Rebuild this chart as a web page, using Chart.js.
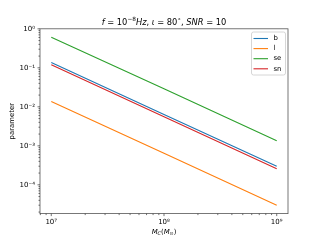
<!DOCTYPE html>
<html>
<head>
<meta charset="utf-8">
<script src="https://cdn.jsdelivr.net/npm/chart.js@4.4.0/dist/chart.umd.min.js"></script>
<style>
    html, body { margin: 0; padding: 0; background: #ffffff; }
</style>
</head>
<body>
<canvas id="paramChart" width="320" height="240"></canvas>
<script>
// chirp mass (solar masses)
var massChirp = [1e7, 1e8, 1e9];
// parameter values
var paramB = [0.137, 0.0064, 3.0e-4];
var paramL = [0.0137, 6.4e-4, 3.0e-5];
var paramSE = [0.61, 0.029, 1.35e-3];
var paramSN = [0.12, 0.0056, 2.6e-4];
var seriesNames = ['b', 'l', 'se', 'sn'];
var seriesColors = ['#1f77b4', '#ff7f0e', '#2ca02c', '#d62728'];

var allSeries = [paramB, paramL, paramSE, paramSN];
var font = 'DejaVu Sans';

function toPoints(ys) {
    return massChirp.map(function (m, i) { return { x: m, y: ys[i] }; });
}

// matplotlib style 5% margin in log space
function logLimits(vals) {
    var lo = Math.log10(Math.min.apply(null, vals));
    var hi = Math.log10(Math.max.apply(null, vals));
    var pad = (hi - lo) * 0.05;
    return [Math.pow(10, lo - pad), Math.pow(10, hi + pad)];
}
var xLim = logLimits(massChirp);
var yLim = logLimits([].concat.apply([], allSeries));

var supMap = { '0': '⁰', '1': '¹', '2': '²', '3': '³', '4': '⁴', '5': '⁵', '6': '⁶', '7': '⁷', '8': '⁸', '9': '⁹', '-': '⁻' };
function powLabel(value) {
    var e = Math.log10(value);
    var r = Math.round(e);
    if (Math.abs(e - r) > 1e-6) return '';
    return '10' + String(r).split('').map(function (ch) { return supMap[ch]; }).join('');
}

function logTicks(scale) {
    var ticks = [];
    var lo = Math.floor(Math.log10(scale.min)), hi = Math.ceil(Math.log10(scale.max));
    for (var e = lo; e <= hi; e++) {
        for (var m = 1; m <= 9; m++) {
            var v = m * Math.pow(10, e);
            if (v >= scale.min * 0.9999 && v <= scale.max * 1.0001) ticks.push({ value: v, major: m === 1 });
        }
    }
    scale.ticks = ticks;
}

// draw pieces of text with mixed styles
function drawRich(ctx, parts, cx, y, size) {
    var total = 0;
    parts.forEach(function (p) {
        var s = p.sub || p.sup ? size * 0.7 : size;
        ctx.font = (p.it ? 'italic ' : '') + s + 'px "' + font + '"';
        p.w = ctx.measureText(p.t).width;
        p.s = s;
        total += p.w;
    });
    var x = cx - total / 2;
    ctx.textAlign = 'left';
    ctx.textBaseline = 'alphabetic';
    parts.forEach(function (p) {
        ctx.font = (p.it ? 'italic ' : '') + p.s + 'px "' + font + '"';
        var dy = p.sup ? -size * 0.4 : (p.sub ? size * 0.2 : 0);
        ctx.fillText(p.t, x, y + dy);
        x += p.w;
    });
}

var decorPlugin = {
    id: 'decor',
    afterDraw: function (chart) {
        var ctx = chart.ctx, a = chart.chartArea;
        ctx.save();
        // spines
        ctx.strokeStyle = '#555555';
        ctx.lineWidth = 0.8;
        ctx.strokeRect(a.left, a.top, a.right - a.left, a.bottom - a.top);

        // tick marks
        ctx.strokeStyle = '#333333';
        ctx.lineWidth = 0.7;
        var xs = chart.scales.x, ys = chart.scales.y;
        xs.ticks.forEach(function (t) {
            var px = xs.getPixelForValue(t.value);
            var len = t.major ? 2.5 : 1.5;
            ctx.beginPath(); ctx.moveTo(px, a.bottom); ctx.lineTo(px, a.bottom + len); ctx.stroke();
        });
        ys.ticks.forEach(function (t) {
            var py = ys.getPixelForValue(t.value);
            var len = t.major ? 2.5 : 1.5;
            ctx.beginPath(); ctx.moveTo(a.left, py); ctx.lineTo(a.left - len, py); ctx.stroke();
        });

        // title
        ctx.fillStyle = '#000000';
        var cx = (a.left + a.right) / 2;
        drawRich(ctx, [
            { t: 'f', it: true }, { t: ' = 10' }, { t: '−8', sup: true }, { t: 'Hz', it: true },
            { t: ', ' }, { t: 'ι', it: true }, { t: ' = 80' }, { t: '∘', sup: true }, { t: ', ' },
            { t: 'SNR', it: true }, { t: ' = 10' }
        ], cx, 24.5, 8.3);

        // x label
        drawRich(ctx, [
            { t: 'M', it: true }, { t: 'C', it: true, sub: true }, { t: '(' },
            { t: 'M', it: true }, { t: '⊙', sub: true }, { t: ')' }
        ], cx, 234, 6.9);

        // y label
        ctx.save();
        ctx.translate(12.5, (a.top + a.bottom) / 2);
        ctx.rotate(-Math.PI / 2);
        ctx.font = '6.9px "' + font + '"';
        ctx.textAlign = 'center';
        ctx.textBaseline = 'middle';
        ctx.fillText('parameter', 0, 0);
        ctx.restore();

        // legend
        var lx = 251.5, ly = 32, lw = 34, lh = 43;
        ctx.fillStyle = 'rgba(255,255,255,0.8)';
        ctx.strokeStyle = '#cccccc';
        ctx.lineWidth = 0.8;
        ctx.beginPath();
        ctx.roundRect(lx, ly, lw, lh, 2);
        ctx.fill();
        ctx.stroke();
        ctx.font = '6.9px "' + font + '"';
        ctx.textAlign = 'left';
        ctx.textBaseline = 'middle';
        seriesNames.forEach(function (name, i) {
            var yy = 38.5 + i * 10.1;
            ctx.strokeStyle = seriesColors[i];
            ctx.lineWidth = 1.1;
            ctx.beginPath(); ctx.moveTo(253.5, yy); ctx.lineTo(268, yy); ctx.stroke();
            ctx.fillStyle = '#000000';
            ctx.fillText(name, 273.5, yy);
        });
        ctx.restore();
    }
};

var paramChart = new Chart(document.getElementById('paramChart').getContext('2d'), {
    type: 'line',
    data: {
        datasets: allSeries.map(function (ys, i) {
            return {
                label: seriesNames[i],
                data: toPoints(ys),
                borderColor: seriesColors[i],
                backgroundColor: seriesColors[i],
                borderWidth: 1.1,
                pointRadius: 0,
                tension: 0,
                fill: false
            };
        })
    },
    options: {
        responsive: false,
        animation: false,
        devicePixelRatio: 1,
        layout: { padding: { left: 0, top: 28.8, right: 32, bottom: 0 } },
        plugins: {
            legend: { display: false },
            title: { display: false },
            tooltip: { enabled: false }
        },
        scales: {
            x: {
                type: 'logarithmic',
                position: 'bottom',
                min: xLim[0],
                max: xLim[1],
                afterBuildTicks: logTicks,
                afterFit: function (scale) { scale.height = 26.4; },
                grid: { drawOnChartArea: false, drawTicks: false },
                border: { display: false },
                ticks: {
                    autoSkip: false,
                    maxRotation: 0,
                    padding: 4.5,
                    color: '#000000',
                    font: { family: font, size: 7 },
                    callback: powLabel
                }
            },
            y: {
                type: 'logarithmic',
                position: 'left',
                min: yLim[0],
                max: yLim[1],
                afterBuildTicks: logTicks,
                afterFit: function (scale) { scale.width = 40; },
                grid: { drawOnChartArea: false, drawTicks: false },
                border: { display: false },
                ticks: {
                    autoSkip: false,
                    padding: 5,
                    color: '#000000',
                    font: { family: font, size: 7 },
                    callback: powLabel
                }
            }
        }
    },
    plugins: [decorPlugin]
});
</script>
</body>
</html>
